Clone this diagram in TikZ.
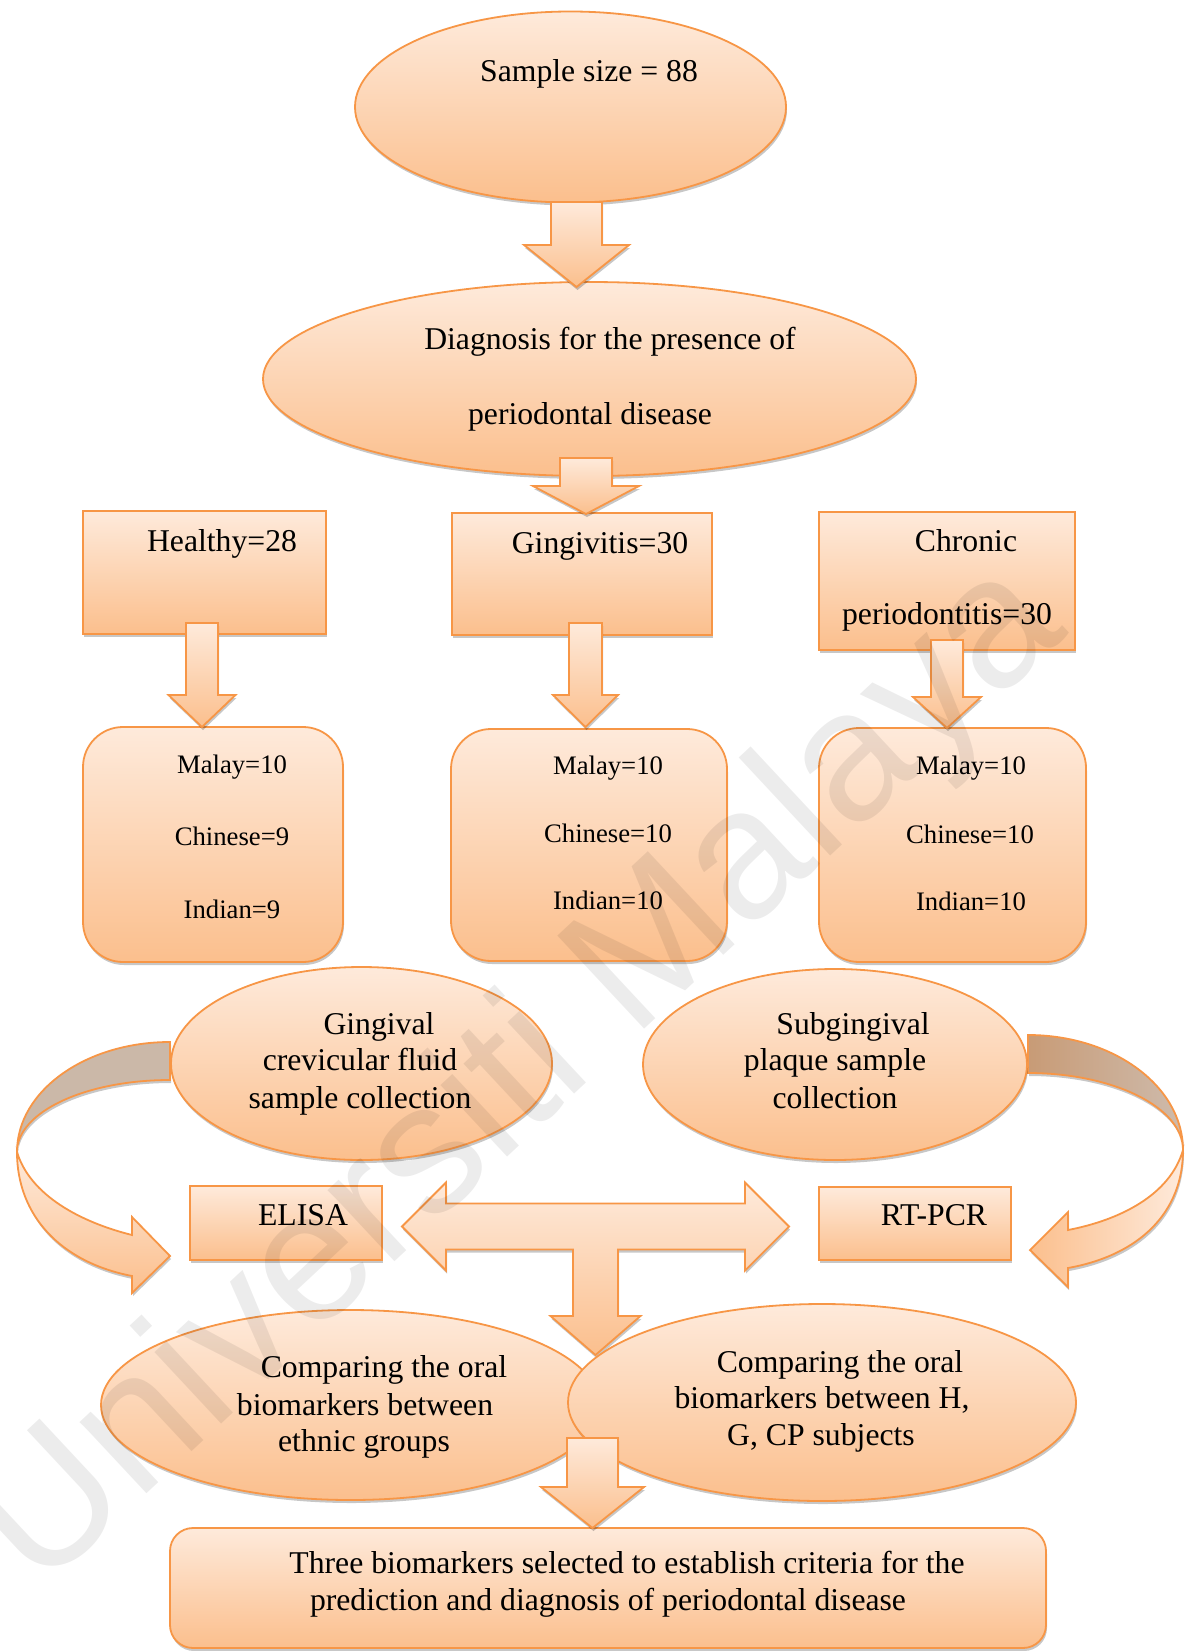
\documentclass[tikz,border=0pt]{standalone}
\usepackage{fontspec}
\setmainfont{Liberation Serif}
\newfontfamily\wmfont{Liberation Sans}
\usetikzlibrary{shapes.geometric,shadows,calc}
\definecolor{obord}{RGB}{247,150,70}
\definecolor{otop}{RGB}{254,234,219}
\definecolor{obot}{RGB}{251,191,141}
\definecolor{ribgray}{RGB}{203,184,168}
\definecolor{ribbrown}{RGB}{200,155,118}
\definecolor{ribgrey}{RGB}{206,187,172}
\tikzset{
  shd/.style={drop shadow={shadow xshift=1pt, shadow yshift=-3pt, opacity=0.22, fill=black}},
  shp/.style={draw=obord, line width=1.8pt, top color=otop, bottom color=obot, shd, inner sep=0pt},
  ell/.style={shp, ellipse},
  rbox/.style={shp, rectangle},
  rrbox/.style={shp, rectangle, rounded corners=40pt},
  blk/.style={draw=obord, line width=1.8pt, line join=miter, top color=otop, bottom color=obot, shd},
  big/.style={font=\fontsize{31.7}{36}\selectfont, anchor=base, inner sep=0pt},
  small/.style={font=\fontsize{26.7}{30}\selectfont, anchor=base, inner sep=0pt},
}
% #1 start, #2 tip, #3 shaft half width, #4 head half width, #5 head length
\newcommand{\dnblock}[5]{%
  \path[blk] let \p1=#1, \p2=#2 in
    (\x2-#3,\y1) -- (\x2+#3,\y1) -- (\x2+#3,\y2+#5) -- (\x2+#4,\y2+#5) -- (\x2,\y2)
    -- (\x2-#4,\y2+#5) -- (\x2-#3,\y2+#5) -- cycle;}
\begin{document}
\begin{tikzpicture}[x=1pt,y=-1pt]
\useasboundingbox (0,0) rectangle (1192,1651);
\fill[white] (0,0) rectangle (1192,1651);

% top
\node[ell, minimum width=431pt, minimum height=191pt] (sample) at (570.5,107) {};
\node[ell, minimum width=653pt, minimum height=194pt] (diag) at (589.5,379) {};
\coordinate (a1s) at (576.5,202);
\coordinate (a1t) at (576.5,287);
\dnblock{(a1s)}{(a1t)}{25.5pt}{52.5pt}{42pt}

% groups
\node[rbox, minimum width=243pt, minimum height=123pt] (healthy) at (204.5,572.5) {};
\node[rbox, minimum width=260pt, minimum height=122pt] (gingi) at (582,574) {};
\node[rbox, minimum width=256pt, minimum height=138pt] (chronic) at (947,581) {};
\coordinate (a2s) at (586,458);
\coordinate (a2t) at (586,514);
\dnblock{(a2s)}{(a2t)}{26pt}{53pt}{28pt}

\node[rrbox, minimum width=260pt, minimum height=235pt] (hgrp) at (213,844.5) {};
\node[rrbox, minimum width=276pt, minimum height=232pt] (ggrp) at (589,845) {};
\node[rrbox, minimum width=267pt, minimum height=234pt] (cgrp) at (952.5,845) {};
\coordinate (a3s) at (202,623);
\coordinate (a3t) at (202,727);
\dnblock{(a3s)}{(a3t)}{16pt}{33.5pt}{32pt}
\coordinate (a4s) at (585.5,623);
\coordinate (a4t) at (585.5,727);
\dnblock{(a4s)}{(a4t)}{16.5pt}{32.5pt}{32pt}
\coordinate (a5s) at (947,640);
\coordinate (a5t) at (947,728);
\dnblock{(a5s)}{(a5t)}{16pt}{34pt}{31pt}

% curved ribbons
\path[draw=obord, line width=1.8pt, fill=ribgray, shd]
  (170,1042) .. controls (85.5,1042) and (17,1091) .. (17,1152)
  .. controls (17,1112) and (85.5,1080) .. (170,1080) -- cycle;
\path[draw=obord, line width=1.8pt, line join=miter, top color=otop, bottom color=obot, shd]
  (17,1152) .. controls (17,1215) and (60,1262) .. (132,1276) -- (132,1293) -- (170,1256)
  -- (132,1217) -- (132,1235) .. controls (80,1222) and (30,1195) .. (17,1152) -- cycle;
\path[draw=obord, line width=1.8pt, left color=ribbrown, right color=ribgrey, shd]
  (1028,1035) .. controls (1113.6,1035) and (1183,1086.5) .. (1183,1150)
  .. controls (1183,1107.5) and (1113.6,1073) .. (1028,1073) -- cycle;
\path[draw=obord, line width=1.8pt, line join=miter, left color=obot, right color=otop, shd]
  (1183,1150) .. controls (1183,1212) and (1140,1255) .. (1068,1268) -- (1068,1287) -- (1030,1250)
  -- (1068,1212) -- (1068,1230) .. controls (1120,1220) and (1170,1195) .. (1183,1150) -- cycle;

% sample collection
\node[ell, minimum width=381pt, minimum height=193pt] (gcf) at (361.5,1063.5) {};
\node[ell, minimum width=384pt, minimum height=191pt] (sub) at (835,1064.5) {};
\node[rbox, minimum width=192pt, minimum height=74pt] (elisa) at (286,1223) {};
\node[rbox, minimum width=192pt, minimum height=73pt] (rtpcr) at (915,1223.5) {};

% comparisons
\node[ell, minimum width=499pt, minimum height=190pt] (cmpe) at (350.5,1405) {};
\path[blk] (402,1226.5) -- (446,1182.5) -- (446,1203.5) -- (745,1203.5) -- (745,1182.5)
  -- (789,1226.5) -- (745,1270.5) -- (745,1249.5) -- (618,1249.5) -- (618,1316)
  -- (640.5,1316) -- (595.5,1355) -- (550.5,1316) -- (573,1316) -- (573,1249.5)
  -- (446,1249.5) -- (446,1270.5) -- cycle;
\node[ell, minimum width=508pt, minimum height=197pt] (cmpg) at (822,1402.5) {};
\node[shp, rectangle, rounded corners=23pt, minimum width=876pt, minimum height=120pt] (final) at (608,1588) {};
\coordinate (a6s) at (592.5,1438);
\coordinate (a6t) at (592.5,1528);
\dnblock{(a6s)}{(a6t)}{25.5pt}{51.5pt}{41pt}

% texts
\node[big] (t1) at (589,82) {Sample size = 88};
\node[big] (t2) at (610,349) {Diagnosis for the presence of};
\node[big] (t3) at (590,424) {periodontal disease};
\node[big] (t4) at (222,551) {Healthy=28};
\node[big] (t5) at (600,553) {Gingivitis=30};
\node[big] (t6) at (966,551) {Chronic};
\node[big] (t7) at (947,624) {periodontitis=30};
\node[small] (t8) at (232,773) {Malay=10};
\node[small] (t9) at (232,845) {Chinese=9};
\node[small] (t10) at (232,918) {Indian=9};
\node[small] (t11) at (608,774) {Malay=10};
\node[small] (t12) at (608,842) {Chinese=10};
\node[small] (t13) at (608,909) {Indian=10};
\node[small] (t14) at (971,774) {Malay=10};
\node[small] (t15) at (970,843) {Chinese=10};
\node[small] (t16) at (971,910) {Indian=10};
\node[big] (t17) at (379,1034) {Gingival};
\node[big] (t18) at (360,1070) {crevicular fluid};
\node[big] (t19) at (360,1108) {sample collection};
\node[big] (t20) at (853,1034) {Subgingival};
\node[big] (t21) at (835,1070) {plaque sample};
\node[big] (t22) at (835,1108) {collection};
\node[big] (t23) at (303,1225) {ELISA};
\node[big] (t24) at (934,1225) {RT-PCR};
\node[big] (t25) at (384,1377) {Comparing the oral};
\node[big] (t26) at (365,1415) {biomarkers between};
\node[big] (t27) at (364,1451) {ethnic groups};
\node[big] (t28) at (840,1372) {Comparing the oral};
\node[big] (t29) at (822,1408) {biomarkers between H,};
\node[big] (t30) at (821,1445) {G, CP subjects};
\node[big] (t31) at (627,1573) {Three biomarkers selected to establish criteria for the};
\node[big] (t32) at (608,1610) {prediction and diagnosis of periodontal disease};

% watermark
\node[font=\wmfont\fontsize{185}{185}\selectfont, text=black, text opacity=0.075, rotate=43, inner sep=0pt] (wm) at (522,1078) {Universiti Malaya};
\end{tikzpicture}
\end{document}
